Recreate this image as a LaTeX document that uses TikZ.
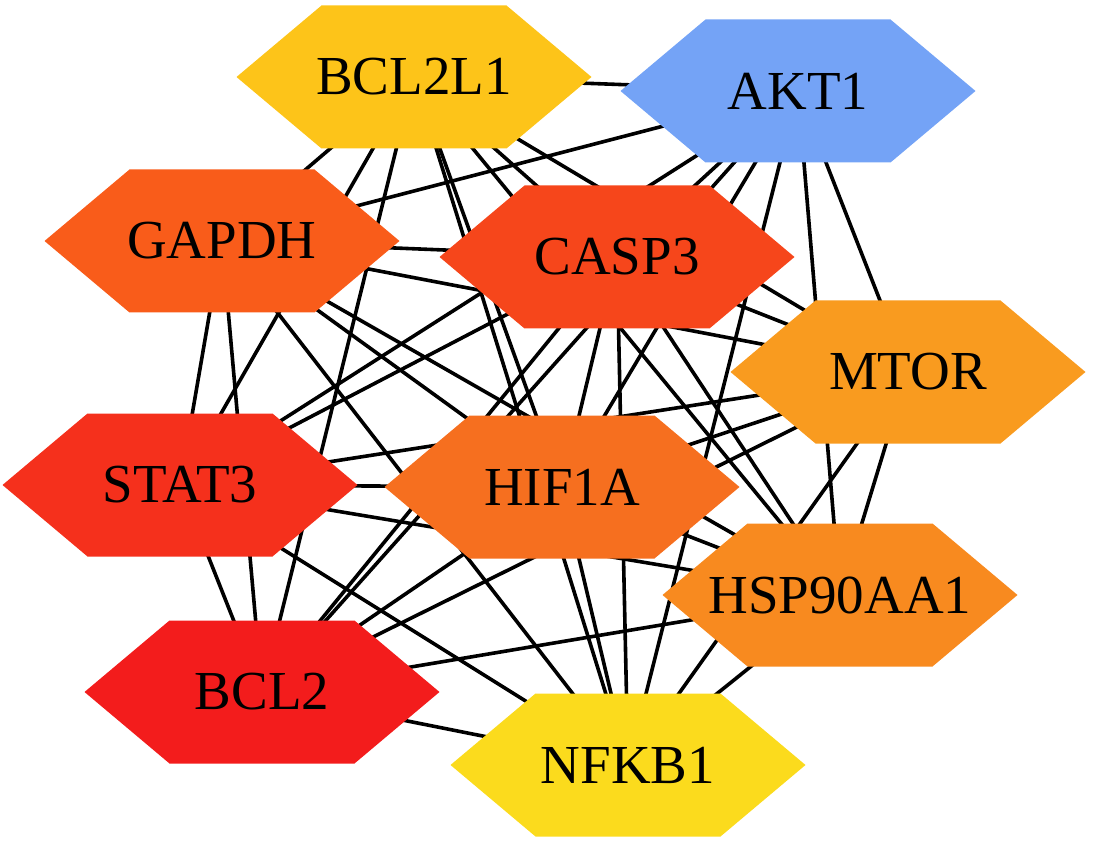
\documentclass[tikz,border=0pt]{standalone}
\usepackage{fontspec}
\setmainfont{Liberation Serif}
\usetikzlibrary{backgrounds}
\definecolor{cBCLXL}{HTML}{FDC419}
\definecolor{cAKT}{HTML}{74A3F6}
\definecolor{cGAPDH}{HTML}{F95C1A}
\definecolor{cCASP}{HTML}{F6461B}
\definecolor{cMTOR}{HTML}{F99B1F}
\definecolor{cSTAT}{HTML}{F5301C}
\definecolor{cHIF}{HTML}{F66F1F}
\definecolor{cHSP}{HTML}{F88A1F}
\definecolor{cBCL}{HTML}{F31C1C}
\definecolor{cNFKB}{HTML}{FBDB1D}
\tikzset{
  hexnode/.style={minimum width=355pt, minimum height=143pt, inner sep=0pt,
    font=\fontsize{55}{60}\selectfont, text=black,
    path picture={\fill[#1]
      (path picture bounding box.west)
      -- ([xshift=85pt]path picture bounding box.north west)
      -- ([xshift=-85pt]path picture bounding box.north east)
      -- (path picture bounding box.east)
      -- ([xshift=-85pt]path picture bounding box.south east)
      -- ([xshift=85pt]path picture bounding box.south west)
      -- cycle;}},
  edge/.style={line width=3.6pt, black}
}
\begin{document}
\begin{tikzpicture}[x=1pt, y=-1pt]
\useasboundingbox (0,0) rectangle (1093,842);
\node[hexnode=cBCLXL] (bclxl) at (414,77) {BCL2L1};
\node[hexnode=cAKT]   (akt)   at (798,91) {AKT1};
\node[hexnode=cGAPDH] (gapdh) at (222,241) {GAPDH};
\node[hexnode=cCASP]  (casp)  at (617,257) {CASP3};
\node[hexnode=cMTOR]  (mtor)  at (908,372) {MTOR};
\node[hexnode=cSTAT]  (stat)  at (180,485) {STAT3};
\node[hexnode=cHIF]   (hif)   at (562,487) {HIF1A};
\node[hexnode=cHSP]   (hsp)   at (840,595) {HSP90AA1};
\node[hexnode=cBCL]   (bcl)   at (262,692) {BCL2};
\node[hexnode=cNFKB]  (nfkb)  at (628,765) {NFKB1};
\begin{scope}[on background layer]
\foreach \a [count=\i] in {bclxl,akt,gapdh,casp,mtor,stat,hif,hsp,bcl,nfkb}{
  \foreach \b [count=\j] in {bclxl,akt,gapdh,casp,mtor,stat,hif,hsp,bcl,nfkb}{
    \ifnum\j>\i \draw[edge] (\a.center) -- (\b.center); \fi
  }
}
\end{scope}
\end{tikzpicture}
\end{document}
